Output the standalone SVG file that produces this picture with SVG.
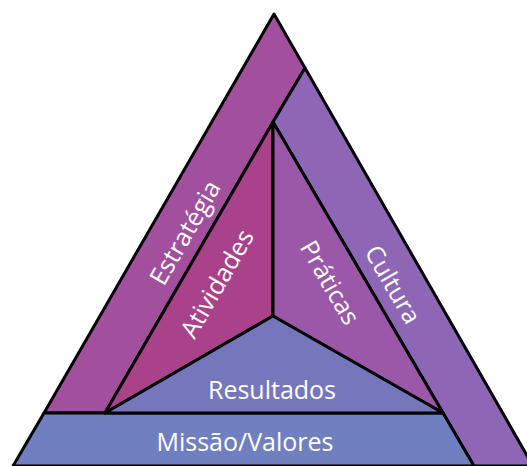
<svg xmlns="http://www.w3.org/2000/svg" width="527" height="466" viewBox="0 0 527 466">
  <style>
    .shape { stroke: #000; stroke-width: 3; stroke-linejoin: round; }
    .lbl { font-family: "Open Sans", "Noto Sans", "Liberation Sans", sans-serif; font-size: 25px; fill: #ffffff; text-anchor: middle; dominant-baseline: central; }
  </style>
  <rect width="527" height="466" fill="#ffffff"/>
  <g id="estrategia">
    <polygon class="shape" fill="#a2509d" points="274,14 305,68 273,122 105,413 44,413"/>
    <text class="lbl" transform="translate(184,232) rotate(-60)">Estratégia</text>
  </g>
  <g id="cultura">
    <polygon class="shape" fill="#8d66b5" points="305,68 533,466 474,466 273,122"/>
    <text class="lbl" transform="translate(394,284) rotate(60)">Cultura</text>
  </g>
  <g id="missao-valores">
    <polygon class="shape" fill="#6f7fbf" points="44,413 443,413 474,466 13,466"/>
    <text class="lbl" x="245" y="441">Missão/Valores</text>
  </g>
  <g id="atividades">
    <polygon class="shape" fill="#a9428a" points="273,122 273,316 105,413"/>
    <text class="lbl" transform="translate(216,283) rotate(-60)">Atividades</text>
  </g>
  <g id="praticas">
    <polygon class="shape" fill="#9b58a8" points="273,122 443,413 273,316"/>
    <text class="lbl" transform="translate(331,282) rotate(60)">Práticas</text>
  </g>
  <g id="resultados">
    <polygon class="shape" fill="#7676bc" points="105,413 273,316 443,413"/>
    <text class="lbl" x="272" y="389">Resultados</text>
  </g>
</svg>
